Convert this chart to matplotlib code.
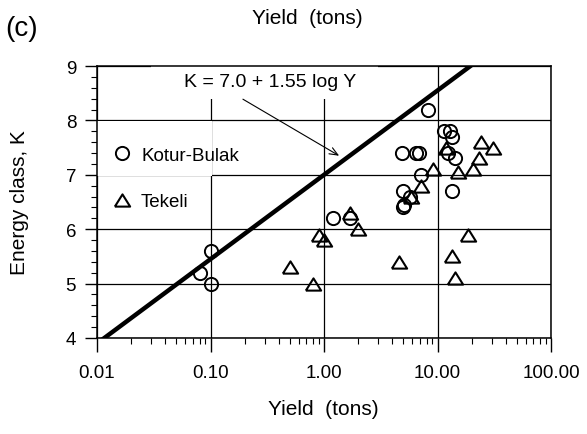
import numpy as np
import matplotlib
matplotlib.use('Agg')
import matplotlib.pyplot as plt
from matplotlib.patches import Rectangle
from matplotlib.lines import Line2D
from matplotlib.ticker import LogLocator, MultipleLocator, NullFormatter

plt.rcParams['font.family'] = ['Liberation Sans', 'DejaVu Sans']

# Kotur-Bulak explosions (yield in tons, energy class K)
kb_yield = [0.08, 0.10, 0.10, 1.2, 1.7, 5.0, 5.1, 5.0, 5.7, 7.1,
            4.9, 6.5, 6.9, 8.3, 11.4, 13.0, 13.4, 12.3, 14.3, 13.3]
kb_K = [5.2, 5.6, 5.0, 6.2, 6.2, 6.4, 6.45, 6.7, 6.6, 7.0,
        7.4, 7.4, 7.4, 8.2, 7.8, 7.8, 7.7, 7.4, 7.3, 6.7]

# Tekeli explosions
tk_yield = [0.5, 0.8, 0.9, 1.0, 1.7, 2.0, 4.6, 5.8, 7.1, 9.1,
            11.9, 15.2, 20.5, 23.0, 24.3, 30.8, 18.5, 13.4, 14.3]
tk_K = [5.3, 5.0, 5.9, 5.8, 6.3, 6.0, 5.4, 6.6, 6.8, 7.1,
        7.5, 7.05, 7.1, 7.3, 7.6, 7.5, 5.9, 5.5, 5.1]

# K = a + b log Y
fit_a = 7.0
fit_b = 1.55

x_ticks = [0.01, 0.1, 1, 10, 100]
x_ticklabels = ['0.01', '0.10', '1.00', '10.00', '100.00']
y_ticks = [4, 5, 6, 7, 8, 9]

fig = plt.figure(figsize=(5.87, 4.35), dpi=100)
ax = fig.add_axes([97/587, 1-339/435, (551-97)/587, (339-67)/435])
ax.set_xscale('log')
ax.set_xlim(0.01, 100)
ax.set_ylim(4, 9)

ax.set_xticks(x_ticks)
ax.set_xticklabels(x_ticklabels)
ax.set_yticks(y_ticks)
ax.xaxis.set_minor_locator(LogLocator(base=10, subs=np.arange(2, 10)))
ax.xaxis.set_minor_formatter(NullFormatter())
ax.yaxis.set_minor_locator(MultipleLocator(0.2))
ax.tick_params(axis='x', which='major', direction='out', length=10, width=1, pad=9, labelsize=13.5)
ax.tick_params(axis='x', which='minor', direction='out', length=4, width=0.8)
ax.tick_params(axis='y', which='major', direction='out', length=9, width=1, pad=6, labelsize=13.5)
ax.tick_params(axis='y', which='minor', direction='out', length=4, width=0.8)
for s in ax.spines.values():
    s.set_linewidth(1.1)

ax.grid(True, which='major', color='black', lw=0.9)
ax.set_axisbelow(True)

# white areas behind the legend and the equation
ax.add_patch(Rectangle((0.0095, 6.985), 0.104 - 0.0095, 1.0, fc='white', ec='none', zorder=1))
ax.add_patch(Rectangle((0.03, 8.39), 3 - 0.03, 0.62, fc='white', ec='none', zorder=1))

xs = np.logspace(-2, 2, 200)
ax.plot(xs, fit_a + fit_b * np.log10(xs), color='black', lw=3.2, solid_capstyle='butt', zorder=2)

tri = [(-1, -0.8), (1, -0.8), (0, 0.8), (-1, -0.8)]
ax.plot(kb_yield, kb_K, linestyle='none', marker='o', ms=9.5, mfc='none', mec='black', mew=1.4, zorder=3)
ax.plot(tk_yield, tk_K, linestyle='none', marker=tri, ms=11, mfc='none', mec='black', mew=1.5, zorder=3)

ax.text(0.333, 8.72, 'K = 7.0 + 1.55 log Y', ha='center', va='center', fontsize=14, zorder=4)
ax.annotate('', xy=(1.36, 7.35), xytext=(0.193, 8.39),
            arrowprops=dict(arrowstyle='->,head_length=0.6,head_width=0.25', lw=0.8, color='black',
                            shrinkA=0, shrinkB=0), zorder=4)

handles = [Line2D([], [], linestyle='none', marker='o', ms=9.5, mfc='none', mec='black', mew=1.4),
           Line2D([], [], linestyle='none', marker=tri, ms=11, mfc='none', mec='black', mew=1.5)]
ax.legend(handles, ['Kotur-Bulak', 'Tekeli'], loc='upper left', bbox_to_anchor=(0.035, 0.703),
          frameon=False, fontsize=13.5, handlelength=1.0, handletextpad=0.5, labelspacing=1.55,
          borderpad=0, borderaxespad=0)

fig.text(22/587, 1-29/435, '(c)', fontsize=20, ha='center', va='center')
fig.text(307/587, 1-19/435, 'Yield  (tons)', fontsize=15, ha='center', va='center')
fig.text(323/587, 1-410/435, 'Yield  (tons)', fontsize=15, ha='center', va='center')
fig.text(20/587, 1-203/435, 'Energy class, K', fontsize=15, ha='center', va='center', rotation=90)

fig.savefig('out.png', dpi=100)
